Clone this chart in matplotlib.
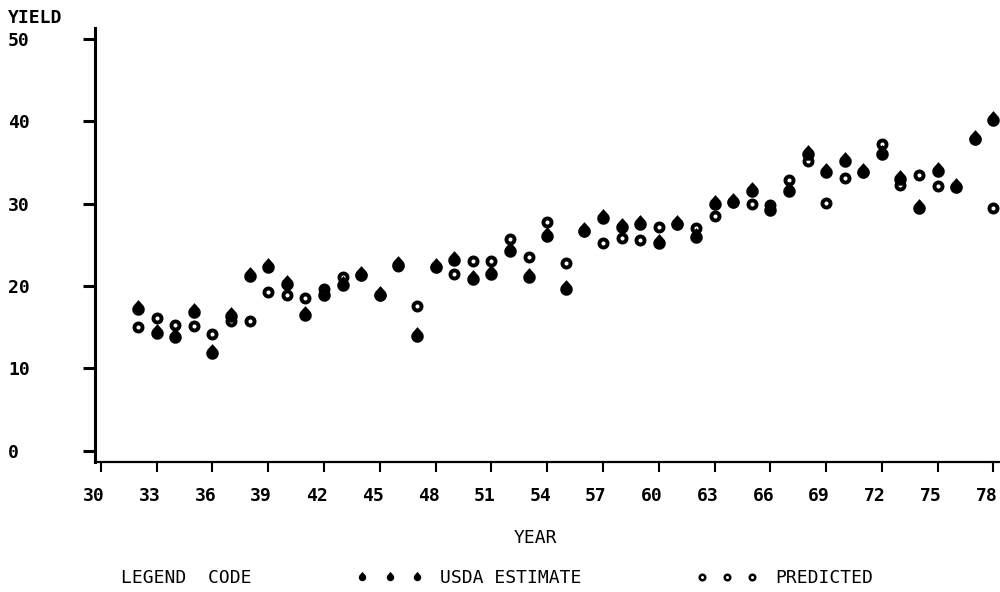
import numpy as np
import matplotlib
matplotlib.use("Agg")
import matplotlib.pyplot as plt
from matplotlib.path import Path
from matplotlib.lines import Line2D
import matplotlib.transforms as mtransforms

# yearly data (19xx)
years = list(range(32, 79))
usda = [17.2, 14.3, 13.8, 16.9, 11.9, 16.4, 21.2, 22.3, 20.2, 16.5,
        18.9, 20.1, 21.3, 18.9, 22.6, 13.9, 22.3, 23.2, 20.9, 21.5,
        24.3, 21.1, 26.1, 19.6, 26.7, 28.3, 27.2, 27.5, 25.2, 27.6,
        26.0, 30.0, 30.2, 31.5, 29.2, 31.6, 36.0, 33.8, 35.2, 33.8,
        36.1, 33.0, 29.5, 34.0, 32.0, 37.9, 40.2]
predicted = [15.0, 16.1, 15.3, 15.1, 14.2, 15.7, 15.7, 19.3, 18.9, 18.5,
             19.7, 21.1, 21.3, 18.9, 22.4, 17.6, 22.3, 21.5, 23.0, 23.0,
             25.7, 23.5, 27.8, 22.8, 26.7, 25.2, 25.9, 25.6, 27.2, 27.6,
             27.0, 28.5, 30.2, 30.0, 29.8, 32.9, 35.2, 30.1, 33.1, 33.8,
             37.3, 32.3, 33.5, 32.1, 32.0, 37.9, 29.5]

xticks = list(range(30, 79, 3))
yticks = [0, 10, 20, 30, 40, 50]

# teardrop marker (circle with a point on top)
tip = 1.5
ang = np.degrees(np.arccos(1 / tip))
a = np.radians(np.linspace(90 + ang, 90 - ang + 360, 40))
verts = [(0, tip)] + list(zip(np.cos(a), np.sin(a))) + [(0, tip)]
drop = Path(verts, closed=True)

mono = "DejaVu Sans Mono"
fig = plt.figure(figsize=(10, 5.92), dpi=100)
ax = fig.add_axes([0.095, 0.22, 0.905, 0.7327])

ax.plot(years, usda, linestyle="none", marker=drop, markersize=13.5,
        color="black", markeredgewidth=0, clip_on=False, zorder=3)
ax.plot(years, predicted, linestyle="none", marker="o", markersize=5.8,
        markerfacecolor="none", markeredgecolor="black",
        markeredgewidth=2.8, clip_on=False, zorder=4)

ax.set_xlim(29.69, 78.35)
ax.set_ylim(-1.34, 51.35)
for s in ["top", "right"]:
    ax.spines[s].set_visible(False)
ax.spines["left"].set_linewidth(2.2)
ax.spines["bottom"].set_linewidth(1.6)

ax.set_xticks(xticks)
ax.set_xticklabels([str(v) for v in xticks], fontfamily=mono,
                   fontweight="bold", fontsize=13)
ax.set_yticks(yticks)
ax.set_yticklabels([str(v) for v in yticks], fontfamily=mono,
                   fontweight="bold", fontsize=13)
ax.tick_params(axis="x", direction="out", length=7.2, width=1.5, pad=11)
ax.tick_params(axis="y", direction="out", length=8.6, width=2.2, pad=54)
for lbl in ax.get_yticklabels():
    lbl.set_horizontalalignment("left")
shift = mtransforms.ScaledTranslation(-7 / 100, 0, fig.dpi_scale_trans)
for lbl in ax.get_xticklabels():
    lbl.set_transform(lbl.get_transform() + shift)

W, H = 1000, 592
def fx(px):
    return px / W
def fy(py):
    return 1 - py / H

fig.text(fx(8), fy(18), "YIELD", fontfamily=mono, fontweight="bold",
         fontsize=13, ha="left", va="center")
fig.text(fx(535), fy(538), "YEAR", fontfamily=mono, fontsize=13,
         ha="center", va="center")

fig.text(fx(121), fy(578), "LEGEND  CODE", fontfamily=mono, fontsize=13,
         ha="left", va="center")
fig.text(fx(440), fy(578), "USDA ESTIMATE", fontfamily=mono, fontsize=13,
         ha="left", va="center")
fig.text(fx(775), fy(578), "PREDICTED", fontfamily=mono, fontsize=13,
         ha="left", va="center")
fig.add_artist(Line2D([fx(362), fx(390), fx(417)], [fy(577)] * 3,
                      transform=fig.transFigure, linestyle="none",
                      marker=drop, markersize=8, color="black",
                      markeredgewidth=0))
fig.add_artist(Line2D([fx(702), fx(727), fx(752)], [fy(577)] * 3,
                      transform=fig.transFigure, linestyle="none",
                      marker="o", markersize=4, markerfacecolor="none",
                      markeredgecolor="black", markeredgewidth=1.8))

fig.savefig("out.png", dpi=100)
